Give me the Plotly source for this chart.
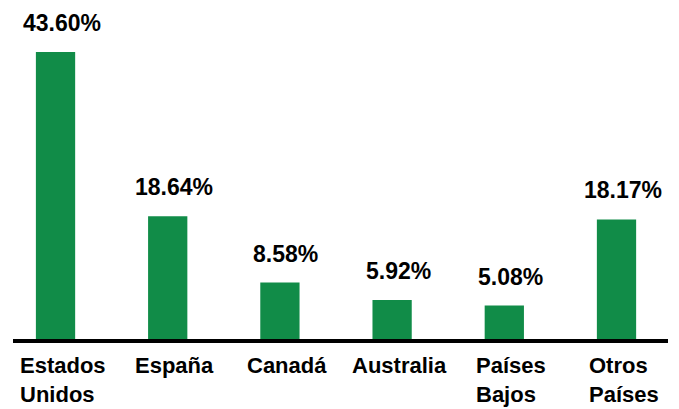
import plotly.graph_objects as go

categories = ["Estados<br>Unidos", "España", "Canadá", "Australia", "Países<br>Bajos", "Otros<br>Países"]
values = [43.60, 18.64, 8.58, 5.92, 5.08, 18.17]
value_labels = ["43.60%", "18.64%", "8.58%", "5.92%", "5.08%", "18.17%"]

FONT = "Liberation Sans, Arial, sans-serif"
GREEN = "#118C48"

x_idx = list(range(len(categories)))

fig = go.Figure(go.Bar(
    x=x_idx, y=values,
    marker=dict(color=GREEN, line=dict(width=0)),
    width=0.35,
    hoverinfo="skip",
))

annotations = []
for i, (v, t) in enumerate(zip(values, value_labels)):
    annotations.append(dict(
        x=i, y=v, xref="x", yref="y", text=t, showarrow=False,
        xanchor="center", yanchor="bottom", xshift=6, yshift=14,
        font=dict(family=FONT, size=23, color="black", weight="bold"),
    ))
for i, c in enumerate(categories):
    annotations.append(dict(
        x=i, y=0, xref="x", yref="paper", text=c, showarrow=False,
        xanchor="center", yanchor="top", xshift=7, yshift=-12, align="left",
        font=dict(family=FONT, size=22, color="black", weight="bold"),
    ))

fig.update_layout(
    width=679, height=409,
    margin=dict(l=13, r=11, t=10, b=70),
    paper_bgcolor="white", plot_bgcolor="white",
    showlegend=False,
    annotations=annotations,
    xaxis=dict(range=[-0.379, 5.459], showticklabels=False, showgrid=False,
               zeroline=False, showline=True, linewidth=4, linecolor="black",
               ticks=""),
    yaxis=dict(range=[0, 50], visible=False, showgrid=False, zeroline=False),
)

fig.write_html("out.html", config={"displayModeBar": False},
               post_script="document.body.style.margin='0px';document.body.style.overflow='hidden';")
